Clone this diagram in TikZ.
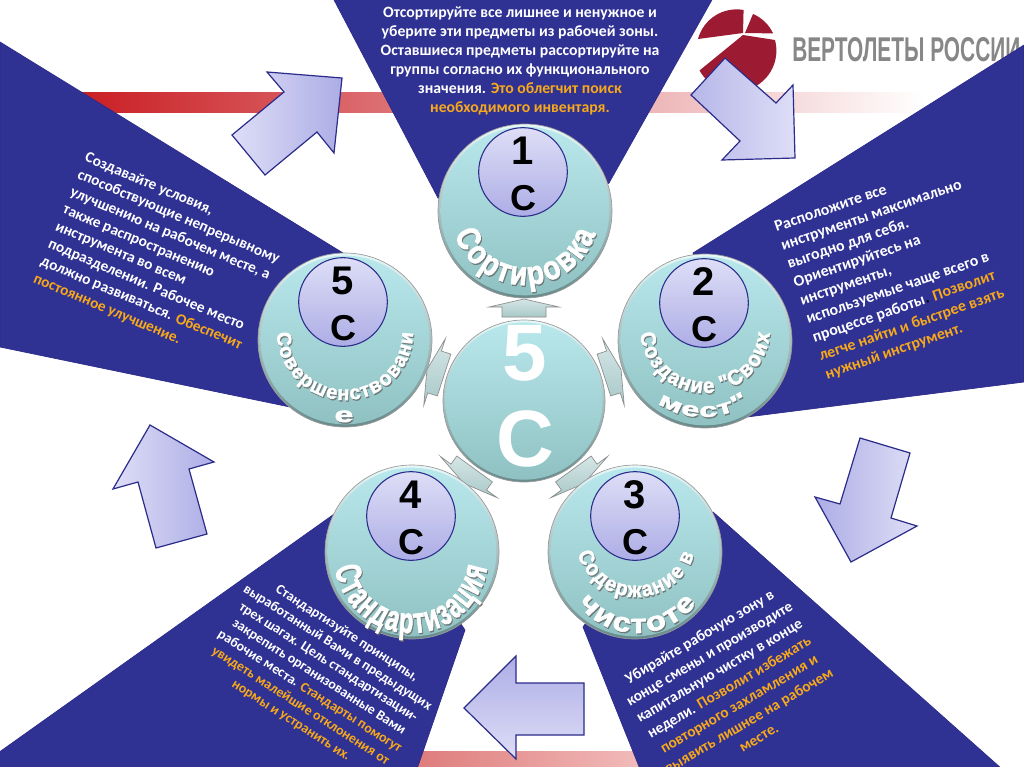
\documentclass[tikz,border=0pt]{standalone}
\usepackage{fontspec}
\setmainfont{Liberation Sans}
\newfontfamily\bodyf{Carlito}
\newfontfamily\wafont{Liberation Sans}[BoldFeatures={FakeBold=2.2}]
\definecolor{navy}{HTML}{2F3193}
\definecolor{navyline}{HTML}{2B2B8A}
\definecolor{orng}{HTML}{F7A81B}
\definecolor{arlight}{HTML}{DEDEF7}
\definecolor{ardark}{HTML}{ADADE6}
\definecolor{logored}{HTML}{9C1B33}
\definecolor{barred}{HTML}{C8191E}
\definecolor{barmid}{HTML}{E27C7C}
\definecolor{lowbarl}{HTML}{DD7777}
\definecolor{lowbarr}{HTML}{F2BEBC}
\definecolor{rimtop}{HTML}{E8F8F9}
\definecolor{rimbot}{HTML}{688A8A}
\definecolor{disctop}{HTML}{B9E8EC}
\definecolor{discbot}{HTML}{8FC1C2}
\definecolor{smalltop}{HTML}{D6E6E6}
\definecolor{smallbot}{HTML}{A8C8C8}
\newlength\lw
\newsavebox\meas
\newcommand\measure[1]{\savebox\meas{\pgfinterruptpicture\normalfont\wordfont #1\endpgfinterruptpicture}\global\lw=\wd\meas}
\newcommand\arcword[9]{%
  \def\wordfont{\wafont\fontsize{#7}{#7}\selectfont\bfseries}%
  \gdef\tot{0}%
  \foreach \ltr in {#9}{\measure{\ltr}\pgfmathsetmacro\newt{\tot+\lw}\global\let\tot\newt}%
  \pgfmathsetmacro\xs{((#6-#5)*3.14159/180)*((#4-#8/2)*0.75/\tot)}%
  \gdef\acc{0}%
  \foreach \ltr [count=\i] in {#9}{%
    \measure{\ltr}%
    \pgfmathsetmacro\th{#5+(#6-#5)*((\acc+\lw/2)/\tot)}%
    \pgfmathsetmacro\px{#2+#4*cos(\th)}%
    \pgfmathsetmacro\py{#3-#4*sin(\th)}%
    \pgfmathsetmacro\ro{\th+90}%
    \node[wordletter,text=black!60,opacity=.7,rotate=\ro,xscale=\xs] (#1s\i) at (\px+1,\py+1.4) {\wordfont\ltr};
    \node[wordletter,text=white,rotate=\ro,xscale=\xs] (#1w\i) at (\px,\py) {\wordfont\ltr};
    \pgfmathsetmacro\newa{\acc+\lw}\global\let\acc\newa
  }%
}
\newcommand\badge[8]{% name, disc c, r, inner c, number
  \node[outerdisc,minimum size=#4*1.5pt] (#1) at (#2,#3) {};
  \node[innerdisc,minimum size=#4*1.5pt-4pt] (#1f) at (#2,#3) {};
  \node[numdisc] (#1n) at (#5,#6) {};
  \node[numtext] (#1a) at (#5,#6-21) {\fontsize{30}{30}\selectfont\bfseries #7};
  \node[numtext] (#1b) at (#5,#6+26) {\fontsize{27}{27}\selectfont\bfseries #8};
}
\tikzset{
  wedge/.style={fill=navy,draw=navyline,line width=.5pt},
  blockarrow/.style={draw=navyline,line width=.9pt,line join=miter},
  smallarrow/.style={draw=black!45,line width=.5pt,top color=smalltop,bottom color=smallbot,line join=miter},
  outerdisc/.style={circle,inner sep=0pt,draw=black!40,line width=.5pt,top color=rimtop,bottom color=rimbot},
  innerdisc/.style={circle,inner sep=0pt,top color=disctop,bottom color=discbot},
  numdisc/.style={circle,inner sep=0pt,minimum size=66.5pt,draw=navyline,line width=.8pt,top color=arlight,bottom color=ardark},
  numtext/.style={inner sep=0pt,text=black},
  wordletter/.style={anchor=base,inner sep=0pt,outer sep=0pt,transform shape},
  bodytext/.style 2 args={inner sep=0pt,text=white,align=center,font=\bodyf\bfseries\fontsize{#1}{#2}\selectfont},
}
\begin{document}
\begin{tikzpicture}[x=0.75pt,y=-0.75pt]
\useasboundingbox (0,0) rectangle (1024,767);
\clip (0,0) rectangle (1024,767);
\fill[white] (0,0) rectangle (1024,767);
% bars
\shade[left color=barred,middle color=barmid,right color=white] (60,93) rectangle (925,112);
\shade[left color=lowbarl,right color=lowbarr] (400,751) rectangle (650,767);
% logo
\fill[logored] (743,33) -- (698,39) arc[start angle=195,end angle=280,radius=40] -- cycle;
\fill[logored] (745,33) -- (753,14) arc[start angle=293,end angle=335,radius=39] -- cycle;
\fill[logored] (743,35) -- (775,40) arc[start angle=-15,end angle=151,radius=41] -- cycle;
\node[inner sep=0pt,anchor=west,text=black!47] (logotext) at (792,50) {\resizebox{171pt}{18pt}{\bfseries ВЕРТОЛЕТЫ РОССИИ}};
% wedges
\path[wedge] (333,-2) -- (438,198) -- (525,230) -- (609,183) -- (713,-2) -- cycle;
\path[wedge] (0,42) -- (343,253) -- (345,340) -- (290,407) -- (0,347) -- cycle;
\path[wedge] (693,253) -- (1024,45) -- (1024,382) -- (747,417) -- (705,341) -- cycle;
\path[wedge] (337,512) -- (-2,753) -- (-2,769) -- (417,769) -- (465,630) -- (412,552) -- cycle;
\path[wedge] (583,627) -- (640,769) -- (1002,769) -- (713,512) -- (635,552) -- cycle;
% block arrows
\path[blockarrow,left color=arlight,right color=ardark] (342,78) -- (267,72) -- (284,92) -- (232,135) -- (265,175) -- (317,132) -- (334,153) -- cycle;
\path[blockarrow,left color=ardark!80!arlight,right color=arlight] (795,158) -- (793,85) -- (776,103) -- (725,58) -- (691,95) -- (740,141) -- (722,160) -- cycle;
\path[blockarrow,left color=ardark,right color=arlight] (860,438) -- (910,453) -- (891,518) -- (917,526) -- (851,562) -- (815,497) -- (840,504) -- cycle;
\path[blockarrow,top color=ardark,bottom color=arlight] (516,656) -- (516,683) -- (584,683) -- (584,735) -- (516,735) -- (516,759) -- (464,708) -- cycle;
\path[blockarrow,left color=arlight,right color=ardark] (150,425) -- (214,462) -- (189,469) -- (207,534) -- (156,548) -- (138,482) -- (113,489) -- cycle;
% small arrows round the centre
\foreach \a in {0,-72,-144,144,72}{
  \begin{scope}[shift={(524,401)},rotate=\a]
    \path[smallarrow] (0,-102) -- (35,-94) -- (22,-94) -- (22,-84) -- (-22,-84) -- (-22,-94) -- (-35,-94) -- cycle;
  \end{scope}
}
% centre disc
\node[outerdisc,minimum size=121.5pt] (hub) at (524,401) {};
\node[innerdisc,minimum size=118pt] (hubf) at (524,401) {};
\node[inner sep=0pt,text=white,font=\fontsize{60}{60}\selectfont\bfseries] (hub5) at (525,353) {5};
\node[inner sep=0pt,text=white,font=\fontsize{60}{60}\selectfont\bfseries] (hubC) at (525,439) {С};
% discs
\badge{one}{525}{211}{87}{523}{172}{1}{С}
\badge{two}{705}{341}{87}{704}{303}{2}{С}
\badge{three}{635}{552}{87}{635}{516}{3}{С}
\badge{four}{412}{552}{87}{411}{516}{4}{С}
\badge{five}{345}{340}{87}{343}{302}{5}{С}
% curved words
\arcword{wa}{525}{211}{74}{197}{343}{25}{18}{С,о,р,т,и,р,о,в,к,а}
\arcword{wb}{705}{328}{65}{184}{356}{16}{13}{С,о,з,д,а,н,и,е,~,",С,в,о,и,х}
\arcword{wc}{703}{337}{80}{235}{305}{15}{10}{м,е,с,т,"}
\arcword{wd}{636}{536}{61}{196}{343}{16}{13}{С,о,д,е,р,ж,а,н,и,е,~,в}
\arcword{we}{637}{559}{74}{216}{324}{20}{14}{ч,и,с,т,о,т,е}
\arcword{wf}{411}{556}{77}{188}{352}{27}{20}{С,т,а,н,д,а,р,т,и,з,а,ц,и,я}
\arcword{wg}{345}{332}{68}{180}{360}{15}{13}{С,о,в,е,р,ш,е,н,с,т,в,о,в,а,н,и}
\node[wordletter,text=black!60,opacity=.7,xscale=1.6] (wgs) at (345,423.4) {\wafont\fontsize{16}{16}\selectfont\bfseries е};
\node[wordletter,text=white,xscale=1.6] (wgl) at (344,422) {\wafont\fontsize{16}{16}\selectfont\bfseries е};
% body texts
\node[bodytext={11.8}{14.25}] (t1) at (520,60.5) {Отсортируйте все лишнее и ненужное и\\
уберите эти предметы из рабочей зоны.\\
Оставшиеся предметы рассортируйте на\\
группы согласно их функционального\\
значения. \textcolor{orng}{Это облегчит поиск}\\
\textcolor{orng}{необходимого инвентаря.}};
\node[bodytext={11.5}{14.1},align=left,anchor=north west,rotate=-23] (t5) at (88,151) {Создавайте условия,\\
способствующие непрерывному\\
улучшению на рабочем месте, а\\
также распространению\\
инструмента во всем\\
подразделении. Рабочее место\\
должно развиваться. \textcolor{orng}{Обеспечит}\\
\textcolor{orng}{постоянное улучшение.}};
\node[bodytext={11.9}{14.6},align=left,anchor=north west,rotate=19] (t2) at (773,222) {Расположите все\\
инструменты максимально\\
выгодно для себя.\\
Ориентируйтесь на\\
инструменты,\\
используемые чаще всего в\\
процессе работы\textcolor{black}{.} \textcolor{orng}{Позволит}\\
\textcolor{orng}{легче найти и быстрее взять}\\
\textcolor{orng}{нужный инструмент.}};
\node[bodytext={11.5}{14.6},rotate=30.5] (t3) at (729,687) {Убирайте рабочую зону в\\
конце смены и производите\\
капитальную чистку в конце\\
недели. \textcolor{orng}{Позволит избежать}\\
\textcolor{orng}{повторного захламления и}\\
\textcolor{orng}{выявить лишнее на рабочем}\\
\textcolor{orng}{месте.}};
\node[bodytext={10.5}{12.9},rotate=-32.6] (t4) at (319,677) {Стандартизуйте принципы,\\
выработанный Вами в предыдущих\\
трех шагах. Цель стандартизации-\\
закрепить организованные Вами\\
рабочие места. \textcolor{orng}{Стандарты помогут}\\
\textcolor{orng}{увидеть малейшие отклонения от}\\
\textcolor{orng}{нормы и устранить их.}};
\end{tikzpicture}
\end{document}
